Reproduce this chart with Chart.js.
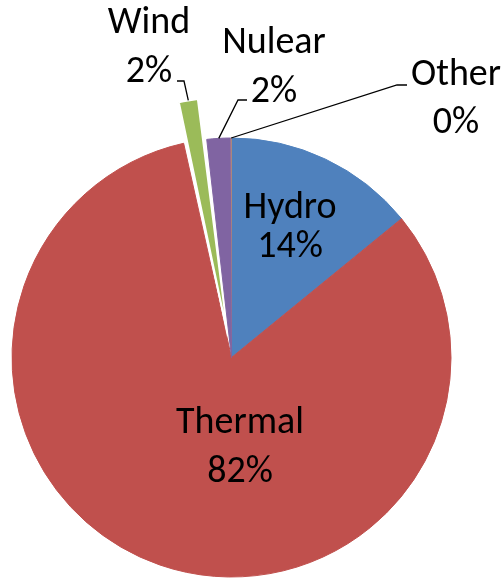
<!DOCTYPE html>
<html>
<head>
<meta charset="utf-8">
<script src="https://cdn.jsdelivr.net/npm/chart.js@4"></script>
<style>
  html, body { margin: 0; padding: 0; background: #fff; }
  #wrap { width: 504px; height: 580px; position: relative; }
</style>
</head>
<body>
<div id="wrap"><canvas id="grafico"></canvas></div>
<script>
const fuentes = ["Hydro", "Thermal", "Wind", "Nulear", "Other"];
const porcentajes = [14.1, 82.4, 1.7, 1.75, 0.05];
const colores = ["#4F81BD", "#C0504D", "#9BBB59", "#8064A2", "#F79646"];
const separacion = [0, 0, 87, 0, 0];

const FUENTE = '38px Carlito, Lato, "Liberation Sans", sans-serif';

// posicion de cada etiqueta: centro x, linea base 1, linea base 2, guia (codo, fin)
const etiquetas = [
  { x: 290, y1: 218, y2: 257 },
  { x: 240, y1: 433, y2: 482 },
  { x: 149, y1: 33, y2: 82, codo: [184, 81], fin: [177, 81] },
  { x: 274, y1: 53, y2: 102, codo: [238, 100], fin: [247, 100] },
  { x: 456, y1: 85, y2: 133, codo: [397, 85], fin: [407, 85] }
];

const etiquetasPlugin = {
  id: "etiquetas",
  afterDatasetsDraw(chart) {
    const ctx = chart.ctx;
    const meta = chart.getDatasetMeta(0);
    const total = porcentajes.reduce((a, b) => a + b, 0);
    ctx.save();
    meta.data.forEach((arc, i) => {
      const et = etiquetas[i];
      if (et.codo) {
        // mismo desplazamiento que usa ArcElement al dibujar
        const off = separacion[i] / 4;
        const fix = 1 - Math.sin(Math.min(Math.PI, arc.circumference || 0));
        const medio = (arc.startAngle + arc.endAngle) / 2;
        const r = off + arc.outerRadius + off * fix;
        const ax = arc.x + Math.cos(medio) * r;
        const ay = arc.y + Math.sin(medio) * r;
        ctx.beginPath();
        ctx.moveTo(ax, ay);
        ctx.lineTo(et.codo[0], et.codo[1]);
        ctx.lineTo(et.fin[0], et.fin[1]);
        ctx.strokeStyle = "#000";
        ctx.lineWidth = 1.3;
        ctx.stroke();
      }
      ctx.fillStyle = "#000";
      ctx.font = FUENTE;
      ctx.textAlign = "center";
      ctx.textBaseline = "alphabetic";
      ctx.fillText(fuentes[i], et.x, et.y1);
      ctx.fillText(Math.round(porcentajes[i] / total * 100) + "%", et.x, et.y2);
    });
    ctx.restore();
  }
};

const ctx = document.getElementById("grafico").getContext("2d");
new Chart(ctx, {
  type: "pie",
  data: {
    labels: fuentes,
    datasets: [{
      data: porcentajes,
      backgroundColor: colores,
      borderColor: colores.map((c, i) => (i === 2 ? "#fff" : c)),
      borderWidth: [1, 1, 2, 1, 0],
      offset: separacion
    }]
  },
  options: {
    responsive: true,
    maintainAspectRatio: false,
    animation: false,
    radius: 219.5,
    layout: { padding: { left: 0, right: 41, top: 135, bottom: 0 } },
    plugins: {
      legend: { display: false },
      tooltip: { enabled: false }
    }
  },
  plugins: [etiquetasPlugin]
});
</script>
</body>
</html>
